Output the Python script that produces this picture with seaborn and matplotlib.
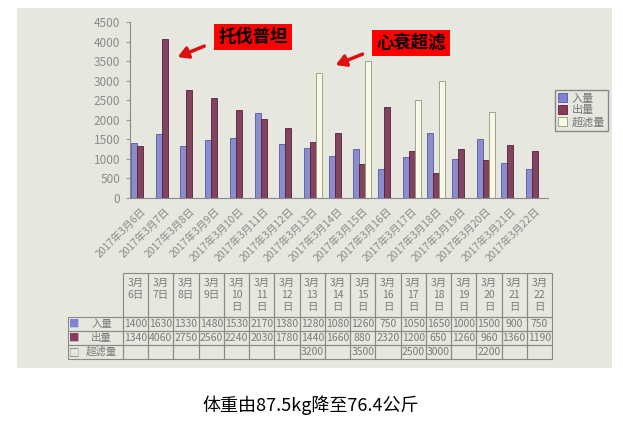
import numpy as np
import pandas as pd
import matplotlib
matplotlib.use('Agg')
import matplotlib.pyplot as plt
from matplotlib.patches import Rectangle
import seaborn as sns

sns.set_style("white")
plt.rcParams['font.family'] = ['Noto Sans CJK SC', 'DejaVu Sans']

# data (ml per day, 2017-03-06 .. 2017-03-22)
days = list(range(6, 23))
dates = ['2017年3月%d日' % d for d in days]
in_vals = [1400, 1630, 1330, 1480, 1530, 2170, 1380, 1280, 1080, 1260, 750, 1050, 1650, 1000, 1500, 900, 750]
out_vals = [1340, 4060, 2750, 2560, 2240, 2030, 1780, 1440, 1660, 880, 2320, 1200, 650, 1260, 960, 1360, 1190]
uf_vals = [None] * 7 + [3200, None, 3500, None, 2500, 3000, None, 2200, None, None]
series = ['入量', '出量', '超滤量']
colors = ['#7f82d6', '#8a3a5e', '#fbfbe4']
edges = ['#55579e', '#5a1f3c', '#96967a']
paper = '#e6e7de'

df = pd.DataFrame({
    'date': dates * 3,
    'series': [s for s in series for _ in dates],
    'value': pd.to_numeric(pd.Series(in_vals + out_vals + uf_vals), errors='coerce'),
})

fig = plt.figure(figsize=(6.23, 4.21), dpi=100)
# the photographed sheet
fig.patches.append(Rectangle((0.0273, 0.1259), 0.955, 0.855, transform=fig.transFigure,
                             facecolor=paper, edgecolor='none', zorder=-10))

ax = fig.add_axes([0.2087, 0.5297, 0.671, 0.418])
sns.barplot(data=df, x='date', y='value', hue='series', hue_order=series,
            palette=colors, width=0.73, errorbar=None, ax=ax, legend=False)
for cont, ec in zip(ax.containers, edges):
    for bar in cont:
        bar.set_edgecolor(ec)
        bar.set_linewidth(0.6)

ax.set_facecolor('none')
ax.set_xlim(-0.41, 16.53)
ax.set_ylim(0, 4500)
ax.set_yticks(np.arange(0, 4501, 500))
ax.set_xlabel('')
ax.set_ylabel('')
for s in ['top', 'right']:
    ax.spines[s].set_visible(False)
for s in ['left', 'bottom']:
    ax.spines[s].set_color('#8a8a8a')
    ax.spines[s].set_linewidth(0.8)
ax.tick_params(axis='y', left=True, length=3, color='#999999', labelcolor='#8a8a8a', labelsize=8.5, pad=4)
ax.tick_params(axis='x', bottom=False, labelcolor='#8a8a8a', labelsize=7.5, pad=2)
plt.setp(ax.get_xticklabels(), rotation=45, ha='right', rotation_mode='anchor')

# legend
handles = [Rectangle((0, 0), 1, 1, facecolor=c, edgecolor=e, linewidth=0.6) for c, e in zip(colors, edges)]
leg = fig.legend(handles, series, loc='upper left', bbox_to_anchor=(0.891, 0.786), fontsize=8,
                 frameon=True, fancybox=False, edgecolor='#888888', facecolor=paper, framealpha=1,
                 handlelength=0.8, handleheight=0.8, handletextpad=0.4, borderpad=0.3,
                 labelspacing=0.15, borderaxespad=0)
for t in leg.get_texts():
    t.set_color('#777777')

# data table under the chart
tax = fig.add_axes([0.1091, 0.1473, 0.7769, 0.2043])
tax.axis('off')
header = ['', ''] + [('3月\n%d日\n ' % d) if d < 10 else ('3月\n%d\n日' % d) for d in days]
markers = ['■', '■', '□']
cell_text = [header]
for mk, name, vals in zip(markers, series, [in_vals, out_vals, uf_vals]):
    cell_text.append([mk, name] + ['' if v is None else str(v) for v in vals])
col_w = [12 / 484, 43 / 484] + [25.24 / 484] * len(days)
tbl = tax.table(cellText=cell_text, bbox=[0, 0, 1, 1], cellLoc='center', colWidths=col_w)
tbl.auto_set_font_size(False)
tbl.set_fontsize(7.5)
for (r, c), cell in tbl.get_celld().items():
    cell.set_facecolor('none')
    cell.set_edgecolor('#8a8a80')
    cell.set_linewidth(0.8)
    cell.get_text().set_color('#7a7a7a')
    cell.set_height(44 if r == 0 else 14)
    if r == 0 and c < 2:
        cell.visible_edges = ''
    elif c == 0:
        cell.visible_edges = 'TBL'
        cell.get_text().set_color(['#7f82d6', '#8a3a5e', '#7a7a7a'][r - 1])
    elif c == 1:
        cell.visible_edges = 'TBR'
        cell._loc = 'left'
        cell.PAD = 0.05

# annotations
fig.text(0.406, 0.912, '托伐普坦', ha='center', va='center', fontsize=12.5, fontweight='bold',
         color='black', bbox=dict(boxstyle='square,pad=0.25', facecolor='#ff0000', edgecolor='none'))
fig.text(0.660, 0.898, '心衰超滤', ha='center', va='center', fontsize=12.5, fontweight='bold',
         color='black', bbox=dict(boxstyle='square,pad=0.25', facecolor='#ff0000', edgecolor='none'))
arrow = dict(arrowstyle='-|>,head_length=0.6,head_width=0.35', color='#e01010', lw=2.5)
ax.annotate('', xy=(0.281, 0.862), xycoords='figure fraction',
            xytext=(0.332, 0.893), textcoords='figure fraction', arrowprops=arrow)
ax.annotate('', xy=(0.5345, 0.843), xycoords='figure fraction',
            xytext=(0.586, 0.874), textcoords='figure fraction', arrowprops=arrow)

fig.text(0.498, 0.038, '体重由87.5kg降至76.4公斤', ha='center', va='center', fontsize=13, color='black')

fig.savefig('out.png', dpi=100)
